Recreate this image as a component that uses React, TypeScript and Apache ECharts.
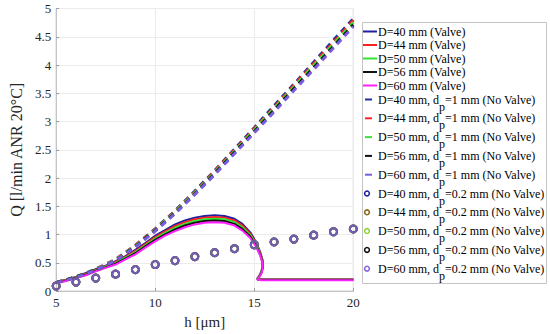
import React, { useEffect, useRef } from "react";
import * as echarts from "echarts";

// ---- data ----
const diameters = ["40", "44", "50", "56", "60"];

// Valve (solid) curves: h [µm] and Q [l/min ANR 20°C]
const hValve = [5, 5.5, 6, 6.5, 7, 7.5, 8, 8.5, 9, 9.5, 10, 10.5, 11, 11.5, 12, 12.5, 13, 13.5, 14, 14.4, 14.8, 15.1, 15.3, 15.42, 15.43, 15.36, 15.24, 15.15, 15.4, 16, 20];
const qValve40 = [0.16, 0.2, 0.25, 0.32, 0.39, 0.45, 0.53, 0.62, 0.73, 0.85, 0.98, 1.08, 1.18, 1.25, 1.3, 1.33, 1.34, 1.33, 1.28, 1.19, 1.04, 0.86, 0.69, 0.55, 0.44, 0.35, 0.26, 0.22, 0.21, 0.21, 0.21];
const qValve44 = [0.155, 0.195, 0.245, 0.31, 0.38, 0.44, 0.515, 0.605, 0.71, 0.83, 0.955, 1.055, 1.15, 1.22, 1.27, 1.3, 1.31, 1.3, 1.25, 1.16, 1.015, 0.84, 0.675, 0.535, 0.43, 0.34, 0.255, 0.215, 0.205, 0.205, 0.205];
const qValve50 = [0.15, 0.19, 0.24, 0.3, 0.37, 0.43, 0.5, 0.59, 0.69, 0.81, 0.93, 1.03, 1.12, 1.19, 1.24, 1.27, 1.28, 1.27, 1.22, 1.13, 0.99, 0.82, 0.66, 0.52, 0.42, 0.33, 0.25, 0.21, 0.2, 0.2, 0.2];
const qValve56 = [0.145, 0.185, 0.235, 0.29, 0.36, 0.42, 0.485, 0.575, 0.67, 0.79, 0.905, 1.005, 1.09, 1.16, 1.21, 1.24, 1.25, 1.24, 1.19, 1.1, 0.965, 0.8, 0.645, 0.505, 0.41, 0.32, 0.245, 0.205, 0.195, 0.195, 0.195];
const qValve60 = [0.14, 0.18, 0.23, 0.28, 0.35, 0.41, 0.47, 0.56, 0.65, 0.77, 0.88, 0.98, 1.06, 1.13, 1.18, 1.21, 1.22, 1.21, 1.16, 1.07, 0.94, 0.78, 0.63, 0.49, 0.4, 0.31, 0.24, 0.2, 0.19, 0.19, 0.19];

// No valve, dp = 1 mm (dashed)
const hNoValve = [5, 6, 7, 8, 9, 10, 11, 12, 13, 14, 15, 16, 17, 18, 19, 20];
const qDash40 = [0.15, 0.25, 0.39, 0.56, 0.81, 1.1, 1.42, 1.77, 2.13, 2.51, 2.89, 3.28, 3.66, 4.05, 4.44, 4.82];
const qDash44 = [0.15, 0.25, 0.38, 0.56, 0.81, 1.09, 1.41, 1.75, 2.12, 2.49, 2.87, 3.25, 3.64, 4.02, 4.4, 4.79];
const qDash50 = [0.15, 0.25, 0.38, 0.55, 0.8, 1.08, 1.4, 1.74, 2.1, 2.47, 2.85, 3.23, 3.61, 3.99, 4.37, 4.75];
const qDash56 = [0.15, 0.25, 0.37, 0.54, 0.79, 1.07, 1.38, 1.72, 2.08, 2.45, 2.82, 3.2, 3.58, 3.95, 4.33, 4.71];
const qDash60 = [0.15, 0.24, 0.37, 0.54, 0.78, 1.06, 1.37, 1.71, 2.06, 2.43, 2.8, 3.17, 3.55, 3.92, 4.3, 4.68];

// No valve, dp = 0.2 mm (circles)
const qDot40 = [0.09, 0.16, 0.23, 0.3, 0.38, 0.47, 0.54, 0.61, 0.68, 0.75, 0.82, 0.87, 0.92, 0.99, 1.05, 1.1];
const qDot44 = [0.09, 0.16, 0.23, 0.3, 0.38, 0.47, 0.54, 0.61, 0.68, 0.75, 0.82, 0.87, 0.92, 0.99, 1.05, 1.1];
const qDot50 = [0.09, 0.16, 0.23, 0.3, 0.38, 0.47, 0.54, 0.61, 0.68, 0.75, 0.82, 0.87, 0.92, 0.99, 1.05, 1.1];
const qDot56 = [0.09, 0.16, 0.23, 0.3, 0.38, 0.47, 0.54, 0.61, 0.68, 0.75, 0.82, 0.87, 0.92, 0.99, 1.05, 1.1];
const qDot60 = [0.09, 0.16, 0.23, 0.3, 0.38, 0.47, 0.54, 0.61, 0.68, 0.75, 0.82, 0.87, 0.92, 0.99, 1.05, 1.1];

const qValve = [qValve40, qValve44, qValve50, qValve56, qValve60];
const qDash = [qDash40, qDash44, qDash50, qDash56, qDash60];
const qDot = [qDot40, qDot44, qDot50, qDot56, qDot60];

const valveColors = ["#1f1fa0", "#ff1f1f", "#33e633", "#111111", "#ff22ff"];
const dashColors = ["#1f2fa0", "#ff2020", "#3ee03e", "#111111", "#7b5ce0"];
const dotColors = ["#2323a0", "#8a6a1c", "#8fd040", "#111111", "#8866e0"];

const FONT = "'Liberation Serif', 'Times New Roman', serif";

function measure(txt: string, size: number): number {
  const c = document.createElement("canvas").getContext("2d");
  if (!c) return txt.length * size * 0.5;
  c.font = `${size}px 'Liberation Serif', serif`;
  return c.measureText(txt).width;
}

export default function App() {
  const ref = useRef<HTMLDivElement>(null);
  useEffect(() => {
    if (!ref.current) return;
    const chart = echarts.init(ref.current, undefined, { renderer: "svg" });

    const series: any[] = [];
    diameters.forEach((d, i) => {
      series.push({
        type: "line",
        name: `D=${d} mm (Valve)`,
        data: hValve.map((h, j) => [h, qValve[i][j]]),
        symbol: "none",
        color: valveColors[i],
        lineStyle: { width: 2, color: valveColors[i] },
        z: 2,
      });
    });
    diameters.forEach((d, i) => {
      series.push({
        type: "line",
        name: `D=${d} mm, dp=1 mm (No Valve)`,
        data: hNoValve.map((h, j) => [h, qDash[i][j]]),
        symbol: "none",
        color: dashColors[i],
        lineStyle: { width: 3, color: dashColors[i], type: [6, 5] },
        z: 3,
      });
    });
    diameters.forEach((d, i) => {
      series.push({
        type: "scatter",
        name: `D=${d} mm, dp=0.2 mm (No Valve)`,
        data: hNoValve.map((h, j) => [h, qDot[i][j]]),
        symbol: "circle",
        symbolSize: 7,
        itemStyle: { color: "rgba(0,0,0,0)", borderColor: dotColors[i], borderWidth: 2 },
        z: 4,
      });
    });

    // legend drawn as graphic
    const legendX = 362.5;
    const legendY = 22.5;
    const rowY = (i: number) => (i < 5 ? 31.5 + 13.5 * i : 99.5 + 18.8 * (i - 5));
    const txtStyle = { fill: "#000", fontFamily: FONT, fontSize: 12, verticalAlign: "middle", align: "left" };
    const graphics: any[] = [
      {
        type: "rect",
        shape: { x: legendX, y: legendY, width: 184, height: 261 },
        style: { fill: "#fff", stroke: "#c4c4c4", lineWidth: 1 },
        z: 100,
      },
    ];
    const tx = 378;
    for (let k = 0; k < 15; k++) {
      const grp = Math.floor(k / 5);
      const i = k % 5;
      const d = diameters[i];
      const cy = rowY(k);
      if (grp === 0) {
        graphics.push({ type: "line", shape: { x1: 363, y1: cy, x2: 377, y2: cy }, style: { stroke: valveColors[i], lineWidth: 2 }, z: 101 });
        graphics.push({ type: "text", x: tx, y: cy, style: { ...txtStyle, text: `D=${d} mm (Valve)` }, z: 101 });
      } else {
        if (grp === 1) {
          graphics.push({ type: "line", shape: { x1: 365, y1: cy, x2: 372, y2: cy }, style: { stroke: dashColors[i], lineWidth: 2 }, z: 101 });
        } else {
          graphics.push({ type: "circle", shape: { cx: 367, cy: cy, r: 2.4 }, style: { fill: "none", stroke: dotColors[i], lineWidth: 1.6 }, z: 101 });
        }
        const first = `D=${d} mm, d`;
        const rest = grp === 1 ? "=1 mm (No Valve)" : "=0.2 mm (No Valve)";
        const w1 = measure(first, 12);
        const wp = measure("p", 12);
        graphics.push({ type: "text", x: tx, y: cy, style: { ...txtStyle, text: first }, z: 101 });
        graphics.push({ type: "text", x: tx + w1, y: cy + 7, style: { ...txtStyle, text: "p" }, z: 101 });
        graphics.push({ type: "text", x: tx + w1 + wp, y: cy, style: { ...txtStyle, text: rest }, z: 101 });
      }
    }

    chart.setOption({
      animation: false,
      backgroundColor: "#fff",
      grid: { left: 39.5, right: 196.7, top: 8.5, bottom: 38, show: true, borderColor: "#c4c4c4", borderWidth: 1, containLabel: false },
      xAxis: {
        type: "value",
        min: 5,
        max: 20,
        interval: 5,
        name: "h [μm]",
        nameLocation: "middle",
        nameGap: 19,
        nameTextStyle: { fontFamily: FONT, fontSize: 15, color: "#262626" },
        axisLine: { show: true, lineStyle: { color: "#c4c4c4", width: 1 } },
        axisTick: { show: true, inside: true, length: 3, lineStyle: { color: "#9a9a9a" } },
        axisLabel: { fontFamily: FONT, fontSize: 13, color: "#262626", margin: 5 },
        splitLine: { show: true, lineStyle: { color: "#ebebeb", width: 1 } },
      },
      yAxis: {
        type: "value",
        min: 0,
        max: 5,
        interval: 0.5,
        name: "Q [l/min ANR 20°C]",
        nameLocation: "middle",
        nameGap: 21,
        nameTextStyle: { fontFamily: FONT, fontSize: 16, color: "#262626" },
        axisLine: { show: true, lineStyle: { color: "#c4c4c4", width: 1 } },
        axisTick: { show: true, inside: true, length: 3, lineStyle: { color: "#9a9a9a" } },
        axisLabel: { fontFamily: FONT, fontSize: 13, color: "#262626", margin: 5 },
        splitLine: { show: true, lineStyle: { color: "#ebebeb", width: 1 } },
      },
      series,
      graphic: graphics,
    });
    return () => chart.dispose();
  }, []);
  return <div ref={ref} style={{ position: "fixed", left: 0, top: 0, width: 550, height: 334 }} />;
}
